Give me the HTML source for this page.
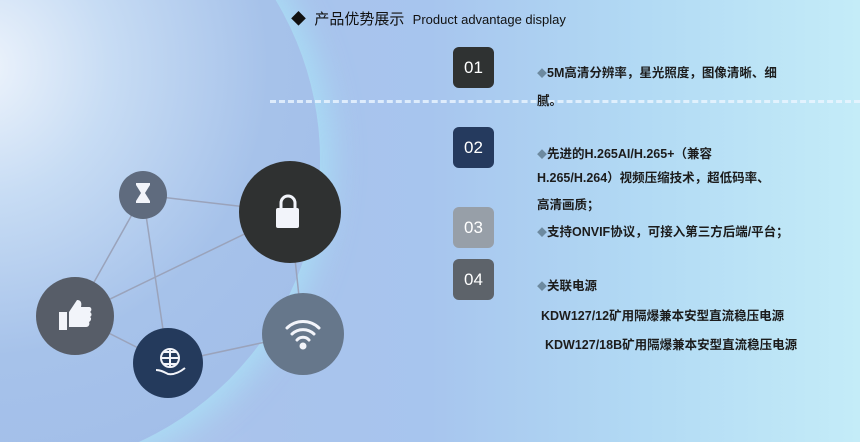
<!DOCTYPE html>
<html><head><meta charset="utf-8"><style>
html,body{margin:0;width:860px;height:442px;overflow:hidden}
#w{position:relative;width:860px;height:442px;overflow:hidden;font-family:"Liberation Sans","Noto Sans CJK SC",sans-serif;
background:linear-gradient(90deg,#b3c8ec 0%,#a9c3ec 30%,#a7c5ee 50%,#b2daf4 75%,#c4ecf8 100%);}
.glow{position:absolute;left:-300px;top:-150px;width:620px;height:620px;border-radius:50%;
background:radial-gradient(circle at 45% 35%,#eef4fc 0%,#c7dcf4 25%,#a6c2ea 55%,#9fbbe8 100%);box-shadow:0 0 30px 12px rgba(170,230,248,.7);}
.dash{position:absolute;left:270px;top:100px;width:590px;border-top:3px dashed rgba(235,245,255,.8);}
.box{position:absolute;left:453px;width:41px;height:41px;border-radius:6px;color:#fff;font-size:17px;text-align:center;line-height:41px}
.t{position:absolute;font-size:12.5px;font-weight:bold;color:#1c1c1c;white-space:nowrap}
.t i{font-style:normal;color:#6d8aa0;font-size:10px}
</style></head><body><div id="w">
<div class="glow"></div>
<div class="dash"></div>
<div style="position:absolute;left:291px;top:8px;font-size:15px;color:#111">◆&nbsp; 产品优势展示 &nbsp;<span style="font-size:13px">Product advantage display</span></div>
<div class="box" style="top:47px;background:#2f3232">01</div>
<div class="box" style="top:127px;background:#253a5e">02</div>
<div class="box" style="top:207px;background:#979fa8">03</div>
<div class="box" style="top:259px;background:#5d636a">04</div>
<div class="t" style="left:537px;top:62px"><i>◆</i>5M高清分辨率，星光照度，图像清晰、细</div>
<div class="t" style="left:537px;top:90px">腻。</div>
<div class="t" style="left:537px;top:143px"><i>◆</i>先进的H.265AI/H.265+（兼容</div>
<div class="t" style="left:537px;top:167px">H.265/H.264）视频压缩技术，超低码率、</div>
<div class="t" style="left:537px;top:194px">高清画质；</div>
<div class="t" style="left:537px;top:221px"><i>◆</i>支持ONVIF协议，可接入第三方后端/平台；</div>
<div class="t" style="left:537px;top:275px"><i>◆</i>关联电源</div>
<div class="t" style="left:541px;top:305px">KDW127/12矿用隔爆兼本安型直流稳压电源</div>
<div class="t" style="left:545px;top:334px">KDW127/18B矿用隔爆兼本安型直流稳压电源</div>
<svg width="860" height="442" style="position:absolute;left:0;top:0">
<g stroke="#9aa3bb" stroke-width="1.5">
<line x1="143" y1="195" x2="290" y2="212"/><line x1="143" y1="195" x2="75" y2="316"/>
<line x1="143" y1="195" x2="168" y2="363"/><line x1="75" y1="316" x2="290" y2="212"/>
<line x1="75" y1="316" x2="168" y2="363"/><line x1="168" y1="363" x2="303" y2="334"/>
<line x1="290" y1="212" x2="303" y2="334"/></g>
<circle cx="143" cy="195" r="24" fill="#5f6b7e"/>
<circle cx="290" cy="212" r="51" fill="#2f3131"/>
<circle cx="75" cy="316" r="39" fill="#575d68"/>
<circle cx="168" cy="363" r="35" fill="#243a5c"/>
<circle cx="303" cy="334" r="41" fill="#66778b"/>
<g fill="#f2f4fa">
<path d="M136 183h14v2l-5 8 5 8v2h-14v-2l5-8-5-8z"/>
<rect x="276" y="208" width="23" height="20" rx="2"/>
<path d="M281 208v-5a7 7 0 0 1 14 0v5" fill="none" stroke="#f2f4fa" stroke-width="3"/>
<rect x="59" y="312" width="8" height="18"/><path d="M69 312l8-12c4 0 5 3 4 7h8c3 0 3 4 1 5c2 1 2 4 0 5c2 1 1 4-1 5c1 2 0 5-3 5h-17z"/>
<circle cx="303" cy="346" r="3.5"/>
</g>
<g fill="none" stroke="#f2f4fa" stroke-width="3" stroke-linecap="round">
<path d="M292 334a16 16 0 0 1 22 0"/><path d="M287 328a23 23 0 0 1 32 0"/><path d="M297 340a8 8 0 0 1 12 0"/>
</g>
<g fill="none" stroke="#f2f4fa" stroke-width="2">
<circle cx="170" cy="358" r="9"/><path d="M161 358h18M170 349v18M164 352h12M164 364h12"/>
<path d="M156 370c5 0 8 2 12 4c6 1 12-2 17-6"/>
</g>
</svg>
</div></body></html>
